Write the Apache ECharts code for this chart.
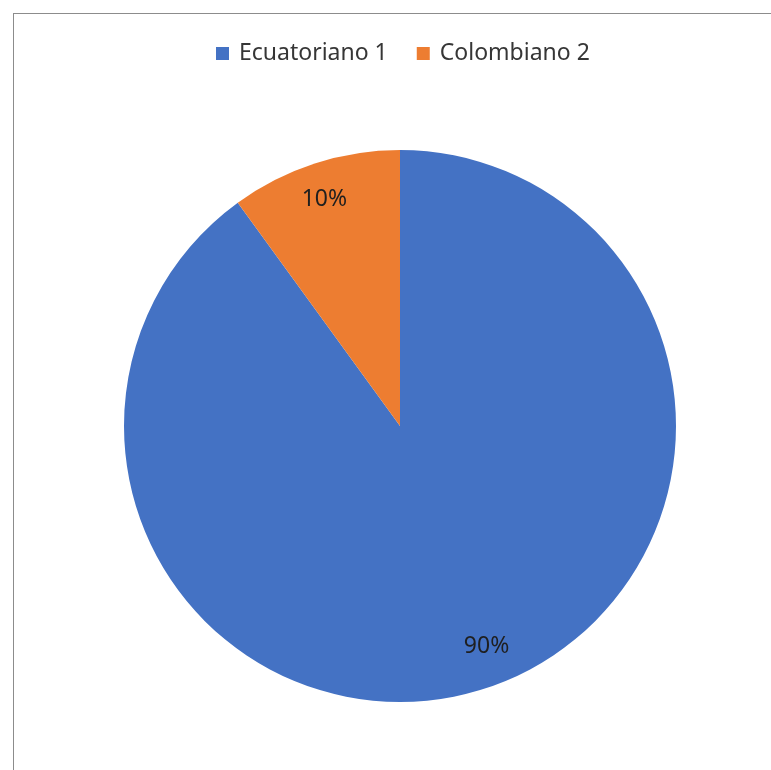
<!DOCTYPE html>
<html>
<head>
<meta charset="utf-8">
<script src="https://cdn.jsdelivr.net/npm/echarts@6/dist/echarts.min.js"></script>
<style>
html,body{margin:0;padding:0;background:#fff;}
#frame{position:absolute;left:13px;top:13px;width:900px;height:900px;border-top:1px solid #8c8c8c;border-left:1px solid #8c8c8c;box-sizing:border-box;}
#chart{position:absolute;left:0;top:0;width:771px;height:770px;}
</style>
</head>
<body>
<div id="frame"></div>
<div id="chart"></div>
<script>
const categories = ['Ecuatoriano 1', 'Colombiano 2'];
const values = [90, 10];
const colors = ['#4472C4', '#ED7D31'];
const labelOffsets = [[43, 86], [-32, -92]];

const chart = echarts.init(document.getElementById('chart'));
chart.setOption({
  animation: false,
  legend: {
    top: 37,
    left: 211,
    itemWidth: 13,
    itemHeight: 13,
    itemGap: 29,
    icon: 'rect',
    textStyle: { fontFamily: 'Noto Sans', fontSize: 23, color: '#363636', padding: [0, 0, 0, 5] },
    data: categories
  },
  series: [{
    type: 'pie',
    center: [400, 426],
    radius: 276,
    startAngle: 90,
    clockwise: true,
    label: {
      show: true,
      position: 'inner',
      formatter: '{d}%',
      fontFamily: 'Noto Sans',
      fontSize: 23,
      color: '#1f1f1f'
    },
    labelLine: { show: false },
    itemStyle: { borderWidth: 0 },
    emphasis: { disabled: true },
    data: categories.map((c, i) => ({
      name: c,
      value: values[i],
      itemStyle: { color: colors[i] },
      label: { offset: labelOffsets[i] }
    }))
  }]
});
</script>
</body>
</html>
